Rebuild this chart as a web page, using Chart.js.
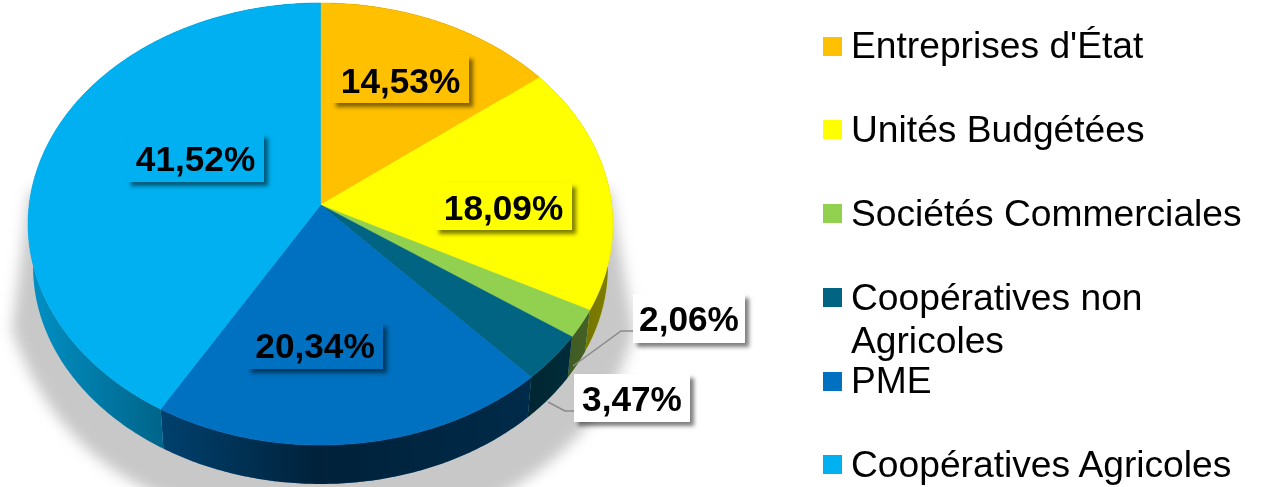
<!DOCTYPE html>
<html lang="fr">
<head>
    <meta charset="UTF-8">
    <title>Répartition par type d'entreprise</title>
    <script src="https://cdn.jsdelivr.net/npm/chart.js"></script>
    <style>
        html, body { margin: 0; padding: 0; background: #fff; overflow: hidden; }
        #wrap { position: relative; width: 1266px; height: 487px; }
        #pie { position: absolute; left: 0; top: 0; }
        .key { position: absolute; width: 19px; height: 19px; }
        .txt {
            position: absolute; left: 851px; font: 37.2px/43px "Liberation Sans", Arial, sans-serif;
            color: #000; white-space: pre;
        }
    </style>
</head>
<body>
    <div id="wrap">
        <canvas id="pie" width="1266" height="487"></canvas>
    </div>
    <script>
        const categories = ['Entreprises d\'État', 'Unités Budgétées', 'Sociétés Commerciales', 'Coopératives non\nAgricoles', 'PME', 'Coopératives Agricoles'];
        const shares = [14.53, 18.09, 2.06, 3.47, 20.34, 41.52];
        const sliceColors = ['#FFC000', '#FFFF00', '#92D050', '#006482', '#0070C0', '#00B0F0'];

        // layout
        const keyTops = [37, 120, 204, 288, 372, 455];
        const textTops = [24, 108, 192, 276, 359, 443];
        const labelBoxes = [[332, 55, 137, 48], [435, 183, 137, 47], [633, 294, 112, 49], [574, 374, 116, 48], [247, 323, 136, 46], [127, 134, 137, 48]];
        const labelBaselines = [93, 219.5, 331, 411, 358, 171];
        const leaders = {
            2: [[633, 331], [621, 331], [573, 366]],
            3: [[578, 411], [565, 411], [548, 402]]
        };

        // the tilted disc: apex, half widths and perspective
        const cx = 320.5, cy = 205, a = 291.3, b = 219.4, k = -0.086;
        const depth = 43, shrink = 0.983;

        function rim(theta, lower) {
            const u = Math.sin(theta), v = -Math.cos(theta), w = 1 + k * v;
            const x = a * u / w, y = b * v / w;
            return lower ? [cx + x * shrink, cy + y * shrink + depth] : [cx + x, cy + y];
        }

        function rimPoints(arc, lower) {
            const t0 = arc.startAngle + Math.PI / 2, t1 = arc.endAngle + Math.PI / 2;
            const n = Math.max(4, Math.ceil((t1 - t0) * 90));
            const pts = [];
            for (let i = 0; i <= n; i++) pts.push(rim(t0 + (t1 - t0) * i / n, lower));
            return pts;
        }

        function trace(ctx, pts) {
            ctx.beginPath();
            pts.forEach((p, i) => i ? ctx.lineTo(p[0], p[1]) : ctx.moveTo(p[0], p[1]));
            ctx.closePath();
        }

        function drawShadow(ctx) {
            ctx.save();
            ctx.filter = 'blur(7px)';
            ctx.fillStyle = '#c8c8c8';
            ctx.beginPath();
            ctx.moveTo(30, 190);
            ctx.lineTo(12, 330);
            ctx.quadraticCurveTo(60, 470, 200, 510);
            ctx.lineTo(470, 510);
            ctx.quadraticCurveTo(605, 450, 634, 330);
            ctx.lineTo(610, 190);
            ctx.closePath();
            ctx.fill();
            ctx.restore();
        }

        function drawSides(ctx, arcs) {
            const dark = ctx.createLinearGradient(cx - a, 0, cx + a, 0);
            dark.addColorStop(0, 'rgba(0,0,0,0.18)');
            dark.addColorStop(0.22, 'rgba(0,0,0,0.42)');
            dark.addColorStop(0.5, 'rgba(0,0,0,0.70)');
            dark.addColorStop(0.86, 'rgba(0,0,0,0.62)');
            dark.addColorStop(1, 'rgba(0,0,0,0.50)');
            arcs.forEach((arc, i) => {
                const pts = rimPoints(arc, false).concat(rimPoints(arc, true).reverse());
                trace(ctx, pts);
                ctx.fillStyle = sliceColors[i];
                ctx.fill();
                ctx.fillStyle = dark;
                ctx.fill();
            });
        }

        function drawFaces(ctx, arcs) {
            arcs.forEach((arc, i) => {
                trace(ctx, [[cx, cy]].concat(rimPoints(arc, false)));
                ctx.fillStyle = sliceColors[i];
                ctx.strokeStyle = sliceColors[i];
                ctx.lineWidth = 0.6;
                ctx.fill();
                ctx.stroke();
            });
        }

        function drawLabels(ctx) {
            Object.values(leaders).forEach(line => {
                ctx.beginPath();
                line.forEach((p, i) => i ? ctx.lineTo(p[0], p[1]) : ctx.moveTo(p[0], p[1]));
                ctx.strokeStyle = '#8a8a8a';
                ctx.lineWidth = 1.5;
                ctx.stroke();
            });
            shares.forEach((val, i) => {
                const [x, y, w, h] = labelBoxes[i];
                ctx.save();
                ctx.shadowColor = 'rgba(0,0,0,0.5)';
                ctx.shadowBlur = 4;
                ctx.shadowOffsetX = 4;
                ctx.shadowOffsetY = 4;
                ctx.fillStyle = (i === 2 || i === 3) ? '#fff' : sliceColors[i];
                ctx.fillRect(x, y, w, h);
                ctx.restore();
                ctx.fillStyle = '#000';
                ctx.font = 'bold 35.2px "Liberation Sans", Arial, sans-serif';
                ctx.textAlign = 'center';
                ctx.textBaseline = 'alphabetic';
                ctx.fillText(val.toFixed(2).replace('.', ',') + '%', x + w / 2, labelBaselines[i]);
            });
        }

        const tiltedPie = {
            id: 'tiltedPie',
            // the library works out the slice angles, this draws them on the tilted disc
            beforeDatasetsDraw(chart) {
                const ctx = chart.ctx;
                const arcs = chart.getDatasetMeta(0).data;
                drawShadow(ctx);
                drawSides(ctx, arcs);
                drawFaces(ctx, arcs);
                drawLabels(ctx);
                return false;
            }
        };

        new Chart(document.getElementById('pie'), {
            type: 'pie',
            data: {
                labels: categories,
                datasets: [{ data: shares, backgroundColor: sliceColors, borderWidth: 0 }]
            },
            options: {
                responsive: false,
                animation: false,
                plugins: { legend: { display: false }, tooltip: { enabled: false } }
            },
            plugins: [tiltedPie]
        });

        const wrap = document.getElementById('wrap');
        categories.forEach((name, i) => {
            const key = document.createElement('div');
            key.className = 'key';
            key.style.left = '823px';
            key.style.top = keyTops[i] + 'px';
            key.style.background = sliceColors[i];
            wrap.appendChild(key);
            const txt = document.createElement('div');
            txt.className = 'txt';
            txt.style.top = textTops[i] + 'px';
            txt.textContent = name;
            wrap.appendChild(txt);
        });
    </script>
</body>
</html>
